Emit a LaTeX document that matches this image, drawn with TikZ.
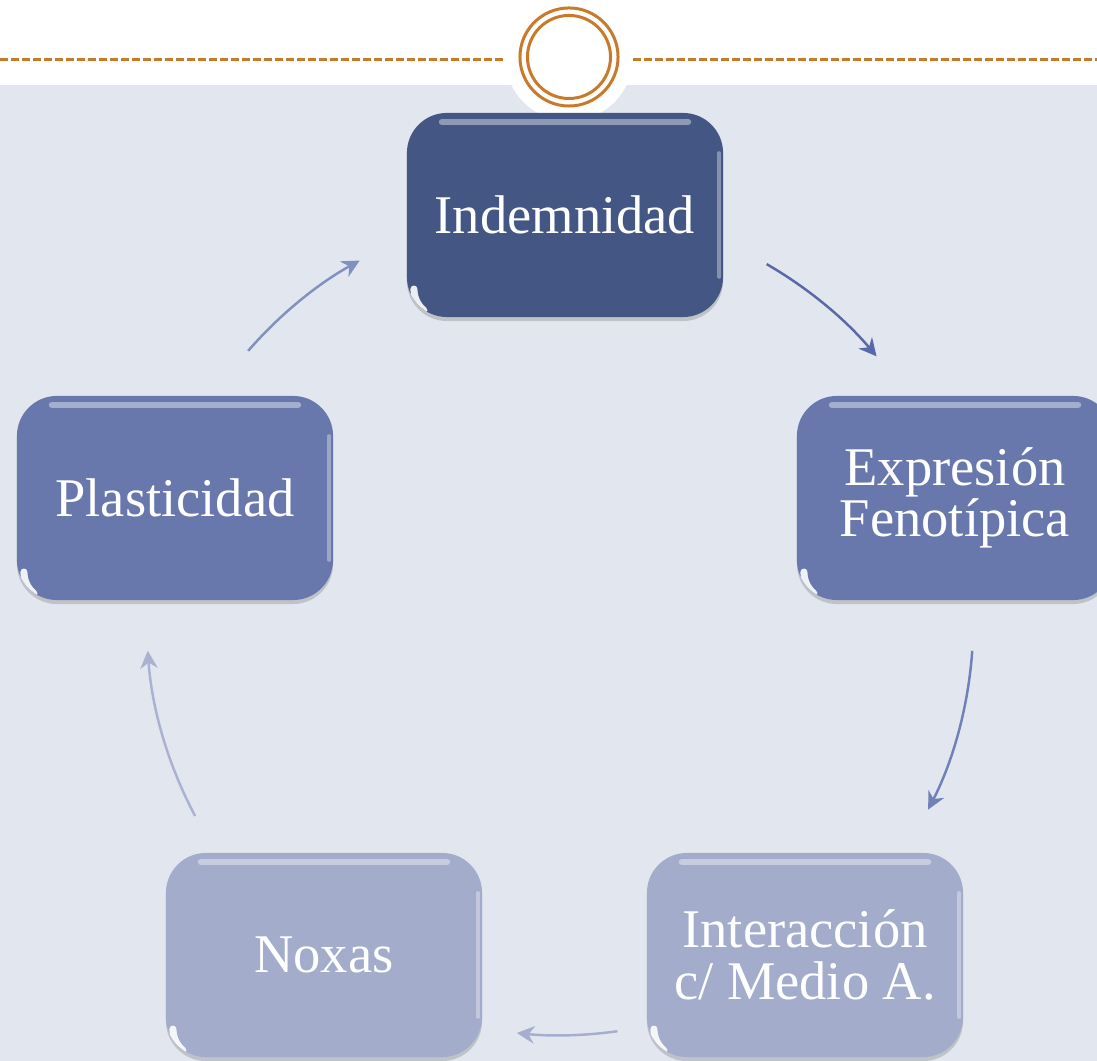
\documentclass[tikz,border=0pt]{standalone}
\usepackage{fontspec}
\setmainfont{Liberation Serif}
\usetikzlibrary{arrows.meta,shadows,calc}

\definecolor{bgblue}{HTML}{E2E7EF}
\definecolor{darkblue}{HTML}{445784}
\definecolor{midblue}{HTML}{6878AC}
\definecolor{paleblue}{HTML}{A3ACCB}
\definecolor{ochre}{HTML}{C8792A}

\begin{document}
\begin{tikzpicture}[x=0.01cm, y=0.01cm,
  box/.style = {rounded corners=0.4cm, minimum width=3.16cm, minimum height=2.04cm,
    text=white, align=center, font=\fontsize{15.5}{14.6}\selectfont,
    drop shadow={shadow xshift=0pt, shadow yshift=-0.04cm, opacity=0.35},
    path picture={
      \draw[white, opacity=0.4, line width=1.8pt, line cap=round]
        ([xshift=0.35cm, yshift=-0.09cm]path picture bounding box.north west) --
        ([xshift=-0.35cm, yshift=-0.09cm]path picture bounding box.north east);
      \draw[white, opacity=0.35, line width=1pt, line cap=round]
        ([xshift=-0.04cm, yshift=-0.4cm]path picture bounding box.north east) --
        ([xshift=-0.04cm, yshift=0.4cm]path picture bounding box.south east);
      \draw[white, opacity=0.9, line width=2pt, line cap=round]
        ([xshift=0.07cm, yshift=0.28cm]path picture bounding box.south west)
        arc[start angle=180, end angle=230, radius=0.28cm];
    }},
  arr/.style = {line width=0.7pt, -{Stealth[length=5pt, width=5pt]}},
  ring/.style = {draw=ochre, line width=0.85pt}]

\useasboundingbox (0,0) rectangle (1097,1061);
\clip (0,0) rectangle (1097,1061);

% background and top band
\fill[bgblue] (0,0) rectangle (1097,976);
\fill[white] (0,976) rectangle (1097,1061);
\fill[white] (569,1004) circle[radius=0.64cm];
\draw[ochre, line width=0.85pt, dash pattern=on 0.08cm off 0.03cm] (0,1001) -- (505,1001);
\draw[ochre, line width=0.85pt, dash pattern=on 0.08cm off 0.03cm] (633,1001) -- (1097,1001);
\draw[ring] (569,1004) circle[radius=0.49cm];
\draw[ring] (569,1004) circle[radius=0.415cm];

% boxes
\node[box, fill=darkblue] (ind) at (565,846) {Indemnidad};
\node[box, fill=midblue] (exp) at (955,563) {Expresión\\Fenotípica};
\node[box, fill=paleblue] (int) at (805,106) {Interacción\\c/ Medio A.};
\node[box, fill=paleblue] (nox) at (324,106) {Noxas};
\node[box, fill=midblue] (pla) at (175,563) {Plasticidad};

% arrows round the cycle
\coordinate (ctr) at (560,439);
\coordinate (a1) at ($(ctr)+(60:4.13cm)$);
\coordinate (a2) at ($(ctr)+(-4:4.13cm)$);
\coordinate (a3) at ($(ctr)+(-82:4.13cm)$);
\coordinate (a4) at ($(ctr)+(-152:4.13cm)$);
\coordinate (a5) at ($(ctr)+(139:4.13cm)$);
\draw[arr, color={rgb,255:red,88;green,104;blue,168}] (a1) arc[start angle=60, end angle=40, radius=4.13cm];
\draw[arr, color={rgb,255:red,112;green,128;blue,184}] (a2) arc[start angle=-4, end angle=-27, radius=4.13cm];
\draw[arr, color={rgb,255:red,166;green,174;blue,208}] (a3) arc[start angle=-82, end angle=-96, radius=4.13cm];
\draw[arr, color={rgb,255:red,170;green,178;blue,210}] (a4) arc[start angle=-152, end angle=-176, radius=4.13cm];
\draw[arr, color={rgb,255:red,128;green,144;blue,192}] (a5) arc[start angle=139, end angle=119, radius=4.13cm];

\end{tikzpicture}
\end{document}
